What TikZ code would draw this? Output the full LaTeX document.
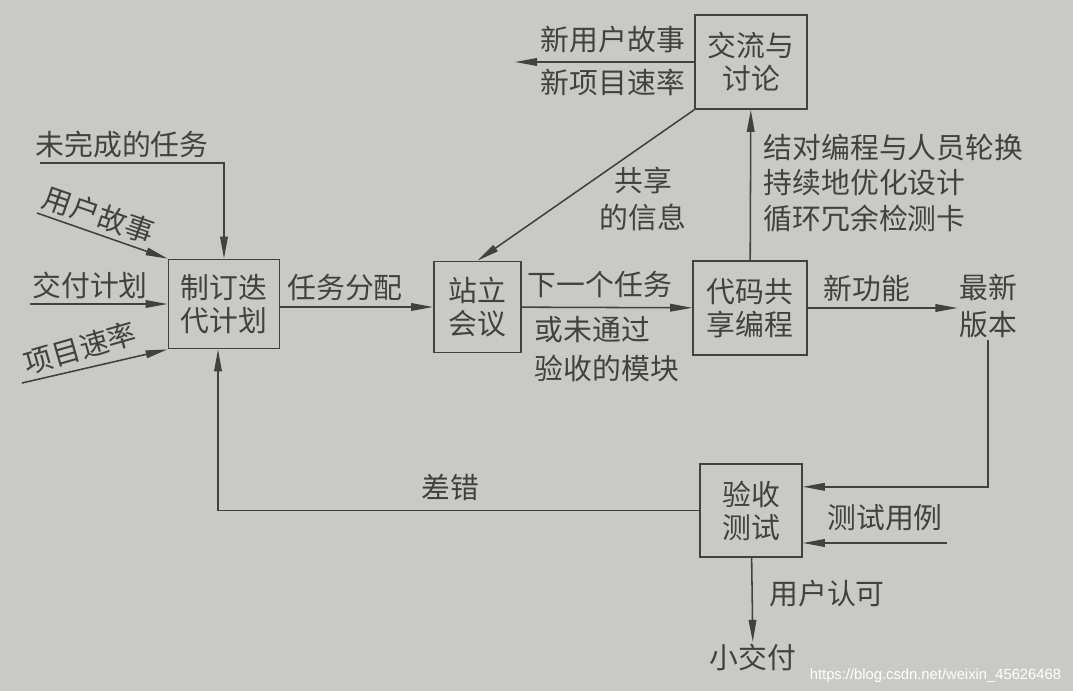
\documentclass[tikz,border=0pt]{standalone}
\usepackage{fontspec}
\usetikzlibrary{arrows.meta,calc}
\newfontfamily\zhfont{Noto Sans CJK SC}
\newfontfamily\markfont{Liberation Sans}
\definecolor{paper}{HTML}{C9C9C6}
\definecolor{ink}{HTML}{414141}
\tikzset{
  box/.style={draw=ink, line width=1.1pt, text=ink, align=center, inner sep=0pt,
              font=\zhfont\fontsize{20.5}{23.5}\selectfont},
  lbl/.style={text=ink, inner sep=1pt, font=\zhfont\fontsize{20.5}{23.5}\selectfont},
  flow/.style={draw=ink, line width=1.1pt, -{Triangle[length=5.5mm,width=1.9mm]}},
  line/.style={draw=ink, line width=1.1pt},
}

\begin{document}
\begin{tikzpicture}[x=0.025cm, y=-0.025cm]
    \fill[paper] (0,0) rectangle (1073,691);
    \useasboundingbox (0,0) rectangle (1073,691);

    \node[box, minimum width=2.78cm, minimum height=2.23cm] (plan) at (224,304) {制订迭\\代计划};
    \node[box, minimum width=2.18cm, minimum height=2.28cm] (standup) at (477.5,307) {站立\\会议};
    \node[box, minimum width=2.85cm, minimum height=2.35cm] (pairing) at (750,308) {代码共\\享编程};
    \node[box, minimum width=2.8cm, minimum height=2.35cm] (talk) at (751,62) {交流与\\讨论};
    \node[box, minimum width=2.55cm, minimum height=2.33cm] (accept) at (751,510.5) {验收\\测试};
    \node[lbl, align=center] (latest) at (988,306) {最新\\[3pt]版本};
    \node[lbl] (deliver) at (753,657) {小交付};

    \coordinate (unfin) at (40,163);
    \coordinate (story) at (37,213);
    \coordinate (dplan) at (30,304);
    \coordinate (velo) at (22,383);
    \coordinate (newout) at (515,62);
    \coordinate (tcase) at (947,543);

    \node[lbl] (unfintxt) at (122,145) {未完成的任务};
    \node[lbl, rotate=-19] (storytxt) at (99,215) {用户故事};
    \node[lbl] (dplantxt) at (90,285) {交付计划};
    \node[lbl, rotate=16] (velotxt) at (80,348) {项目速率};
    \node[lbl] (assign) at (345,288) {任务分配};
    \node[lbl] (nexttask) at (600,285) {下一个任务};
    \node[lbl, align=left, anchor=west] (failed) at (533,349) {或未通过\\[4pt]验收的模块};
    \node[lbl] (newstory) at (613,40) {新用户故事};
    \node[lbl] (newvelo) at (613,82) {新项目速率};
    \node[lbl, align=center] (shared) at (643,199) {共享\\[3pt]的信息};
    \node[lbl, align=left, anchor=west] (practice) at (762,183) {结对编程与人员轮换\\[2pt]持续地优化设计\\[2pt]循环冗余检测卡};
    \node[lbl] (newfeat) at (867,288) {新功能};
    \node[lbl] (testcase) at (885,518) {测试用例};
    \node[lbl] (errors) at (450,487) {差错};
    \node[lbl] (approve) at (827,594) {用户认可};
    \node[text=white, anchor=east, font=\markfont\fontsize{10.5}{12}\selectfont] (mark) at (1066,676) {https://blog.csdn.net/weixin\_45626468};

    \draw[flow] (unfin) -| (plan.north);
    \draw[flow] (story) -- (plan.north west);
    \draw[flow] (dplan) -- (dplan -| plan.west);
    \draw[flow] (velo) -- (plan.south west);
    \draw[flow] (plan.east |- standup.west) -- (standup.west);
    \draw[flow] (standup) -- (pairing);
    \draw[flow] (pairing) -- (talk);
    \draw[flow] (talk) -- (newout);
    \draw[flow] (talk.south west) -- (standup.north);
    \draw[flow] (pairing.east) -- (latest.west |- pairing.east);
    \draw[flow] (latest.south) |- ($(accept.north east)!0.25!(accept.south east)$);
    \draw[flow] (tcase) -- (tcase -| accept.east);
    \draw[flow] (accept.west) -| ([xshift=-0.15cm]plan.south);
    \draw[flow] (accept) -- (deliver);
  \end{tikzpicture}
\end{document}
